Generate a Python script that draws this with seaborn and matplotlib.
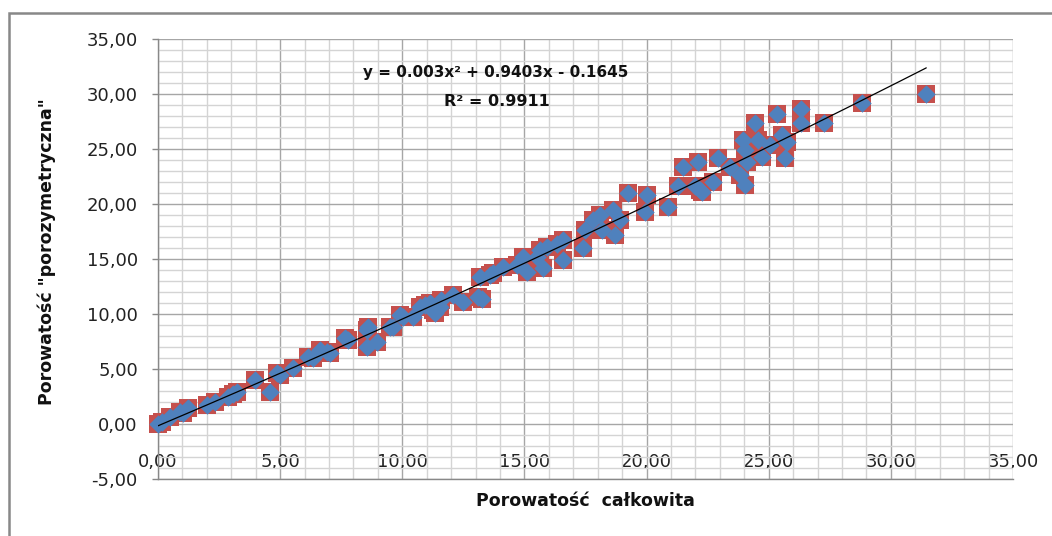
import numpy as np
import pandas as pd
import matplotlib
matplotlib.use("Agg")
import matplotlib.pyplot as plt
from matplotlib.patches import Rectangle
import seaborn as sns

# Porosity measurements: total porosity vs. porosimetric porosity
total_porosity = [
    0.0, 0.15, 0.49, 0.9, 1.04, 1.24, 1.99, 2.33, 2.88, 3.22, 3.05, 3.97,
    4.58, 4.86, 4.99, 5.54, 6.14, 6.36, 6.63, 6.9, 7.04, 7.79, 7.65, 8.54,
    8.61, 8.54, 8.95, 9.5, 9.63, 9.9, 10.04, 10.45, 10.72, 10.93, 11.13, 11.27,
    11.34, 11.54, 11.6, 12.09, 12.5, 13.11, 13.18, 13.25, 13.59, 13.7, 14.13, 14.68,
    14.95, 15.09, 15.5, 15.64, 15.77, 15.91, 16.32, 16.59, 16.59, 17.41, 17.48, 17.82,
    18.09, 18.16, 18.64, 18.71, 18.91, 19.25, 19.93, 20.0, 20.89, 21.3, 21.5, 21.98,
    22.12, 22.19, 22.25, 22.73, 22.94, 23.41, 23.82, 23.96, 24.03, 24.03, 24.1, 24.44,
    24.57, 24.71, 25.05, 25.32, 25.53, 25.67, 25.73, 26.32, 26.32, 27.28, 28.8, 31.45,
]
porosimetric_porosity = [
    0.0, 0.2, 0.66, 1.12, 0.97, 1.43, 1.73, 2.03, 2.48, 2.94, 2.7, 4.0,
    2.94, 4.6, 4.45, 5.06, 6.12, 5.97, 6.73, 6.57, 6.45, 7.64, 7.8, 8.55,
    8.85, 7.03, 7.48, 8.85, 8.85, 9.9, 9.75, 9.75, 10.67, 10.8, 10.97, 10.4,
    10.06, 10.67, 11.27, 11.7, 11.1, 11.57, 13.4, 11.4, 13.55, 13.7, 14.3, 14.45,
    15.2, 13.85, 15.2, 15.8, 14.15, 16.1, 16.4, 16.7, 14.9, 15.97, 17.6, 18.55,
    19.0, 17.6, 19.45, 17.2, 18.55, 20.97, 19.3, 20.8, 19.75, 21.6, 23.4, 21.6,
    23.85, 21.3, 21.1, 22.0, 24.15, 23.4, 22.6, 25.8, 24.9, 21.7, 23.85, 27.33,
    25.8, 24.3, 25.36, 28.18, 26.27, 24.2, 25.67, 28.64, 27.33, 27.33, 29.15, 30.0,
]

# Polynomial trendline (order 2) and its fit quality
trend_coeffs = [0.003, 0.9403, -0.1645]
r_squared = 0.9911

x_ticks = [0, 5, 10, 15, 20, 25, 30, 35]
x_tick_labels = ["0,00", "5,00", "10,00", "15,00", "20,00", "25,00", "30,00", "35,00"]
y_ticks = [-5, 0, 5, 10, 15, 20, 25, 30, 35]
y_tick_labels = ["-5,00", "0,00", "5,00", "10,00", "15,00", "20,00", "25,00", "30,00", "35,00"]

x_title = "Porowatość  całkowita"
y_title = "Porowatość \"porozymetryczna\""

sns.set_theme(style="white")
plt.rcParams["font.family"] = ["DejaVu Sans"]

RED = "#C5504D"
BLUE = "#4F81BD"

df = pd.DataFrame({"x": total_porosity, "y": porosimetric_porosity})

fig = plt.figure(figsize=(10.52, 5.36), dpi=100)
ax = fig.add_axes([158 / 1052, 1 - 479 / 536, (1013 - 158) / 1052, (479 - 39) / 536])

# Grid: fine lines every 1 unit, heavier every 5
ax.set_xlim(0, 35)
ax.set_ylim(-5, 35)
ax.set_xticks(x_ticks)
ax.set_yticks(y_ticks)
ax.set_xticks(np.arange(0, 36, 1), minor=True)
ax.set_yticks(np.arange(-5, 36, 1), minor=True)
ax.grid(which="minor", color="#D4D4D4", linewidth=1.0)
ax.grid(which="major", color="#A6A6A6", linewidth=1.0)
ax.set_axisbelow(True)

# Markers: red square with a blue diamond inscribed in it
sns.scatterplot(data=df, x="x", y="y", marker="s", s=150, color=RED,
                linewidth=0, ax=ax, clip_on=False, zorder=3)
sns.scatterplot(data=df, x="x", y="y", marker="D", s=88, color=BLUE,
                linewidth=0, ax=ax, clip_on=False, zorder=4)

# Trendline over the data range
xs = np.linspace(0, max(total_porosity), 200)
trend = pd.DataFrame({"x": xs, "y": np.polyval(trend_coeffs, xs)})
sns.lineplot(data=trend, x="x", y="y", color="black", linewidth=0.9, ax=ax, zorder=5)

ax.set_xticklabels(x_tick_labels, fontsize=13, color="#222222")
ax.set_yticklabels(y_tick_labels, fontsize=13, color="#222222")
ax.tick_params(axis="x", which="both", length=0, pad=-19)
ax.tick_params(axis="y", which="major", length=4.5, width=1, color="#888888",
               direction="out", pad=10, left=True)
ax.tick_params(axis="y", which="minor", length=0)
ax.set_xlabel("")
ax.set_ylabel("")

for side in ["top", "right"]:
    ax.spines[side].set_visible(False)
for side in ["left", "bottom"]:
    ax.spines[side].set_color("#888888")
    ax.spines[side].set_linewidth(1.0)

# Trendline equation
eq = "y = 0.003x² + 0.9403x - 0.1645"
fig.text(496 / 1052, 1 - 73 / 536, eq, ha="center", va="center",
         fontsize=11, fontweight="bold", color="#111111")
fig.text(497 / 1052, 1 - 102 / 536, f"R² = {r_squared}", ha="center", va="center",
         fontsize=11.5, fontweight="bold", color="#111111")

# Axis titles
fig.text(585 / 1052, 1 - 501 / 536, x_title, ha="center", va="center",
         fontsize=12.5, fontweight="bold", color="#111111")
fig.text(47 / 1052, 1 - 252 / 536, y_title, ha="center", va="center",
         rotation=90, fontsize=12.5, fontweight="bold", color="#111111")

# Chart area border
fig.patches.append(Rectangle((9 / 1052, -0.1), 1.2, 1 - 13 / 536 + 0.1,
                             transform=fig.transFigure, fill=False,
                             edgecolor="#888888", linewidth=1.8))

fig.savefig("out.png", dpi=100)
